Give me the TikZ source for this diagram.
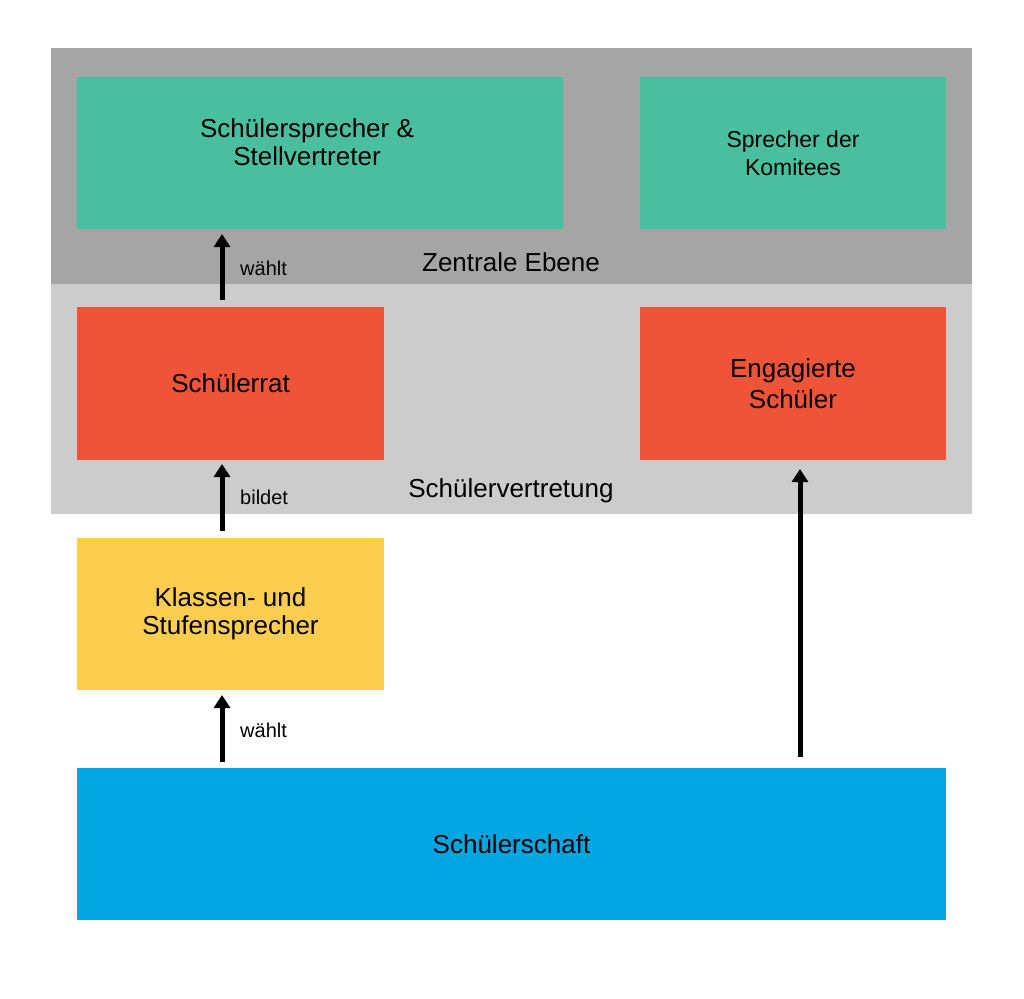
\documentclass[tikz,border=0pt]{standalone}
\usepackage{fontspec}
\setmainfont{Liberation Sans}
\usetikzlibrary{arrows.meta}
\definecolor{darkband}{HTML}{A5A5A5}
\definecolor{lightband}{HTML}{CCCCCC}
\definecolor{grn}{HTML}{4ABF9F}
\definecolor{rd}{HTML}{EE5437}
\definecolor{yl}{HTML}{FDCD50}
\definecolor{bl}{HTML}{00A6E0}
\tikzset{
  box/.style={inner sep=0pt, outer sep=0pt, align=center, font=\fontsize{26}{28}\selectfont},
  band/.style={inner sep=0pt, outer sep=0pt},
  lbl/.style={font=\fontsize{20}{22}\selectfont, anchor=west, inner sep=0pt},
  arr/.style={line width=5pt, -{Triangle[width=16pt,length=13pt]}},
}
\begin{document}
\begin{tikzpicture}[x=1pt,y=-1pt]
\useasboundingbox (0,0) rectangle (1024,998);
\fill[white] (0,0) rectangle (1024,998);
% bands
\fill[darkband] (51,48) rectangle (972,284);
\fill[lightband] (51,284) rectangle (972,514);
\node[band, font=\fontsize{26}{29}\selectfont] (zeb) at (511,262) {Zentrale Ebene};
\node[band, font=\fontsize{26}{29}\selectfont] (sv) at (511,491) {Schülervertretung};
% boxes
\node[box, fill=grn, minimum width=486pt, minimum height=152pt] (sp) at (320,153) {};
\node[box] (sptext) at (307,142) {Schülersprecher \&\\Stellvertreter};
\node[box, fill=grn, minimum width=306pt, minimum height=152pt, font=\fontsize{23}{28}\selectfont] (kom) at (793,153) {Sprecher der\\Komitees};
\node[box, fill=rd, minimum width=307pt, minimum height=153pt] (sr) at (230.5,383.5) {Schülerrat};
\node[box, fill=rd, minimum width=306pt, minimum height=153pt, font=\fontsize{26}{31}\selectfont] (eng) at (793,383.5) {Engagierte\\Schüler};
\node[box, fill=yl, minimum width=307pt, minimum height=152pt] (ks) at (230.5,614) {Klassen- und\\Stufensprecher};
\node[box, fill=bl, minimum width=869pt, minimum height=152pt] (ss) at (511.5,844) {Schülerschaft};
% arrows
\coordinate (a1s) at (222,300); \coordinate (a1e) at (222,234);
\coordinate (a2s) at (222,531); \coordinate (a2e) at (222,464);
\coordinate (a3s) at (222,762); \coordinate (a3e) at (222,695);
\coordinate (a4s) at (800,757); \coordinate (a4e) at (800,469);
\draw[arr] (a1s) -- (a1e);
\draw[arr] (a2s) -- (a2e);
\draw[arr] (a3s) -- (a3e);
\draw[arr] (a4s) -- (a4e);
\node[lbl] (l1) at (240,268) {wählt};
\node[lbl] (l2) at (240,497) {bildet};
\node[lbl] (l3) at (240,730) {wählt};
\end{tikzpicture}
\end{document}
